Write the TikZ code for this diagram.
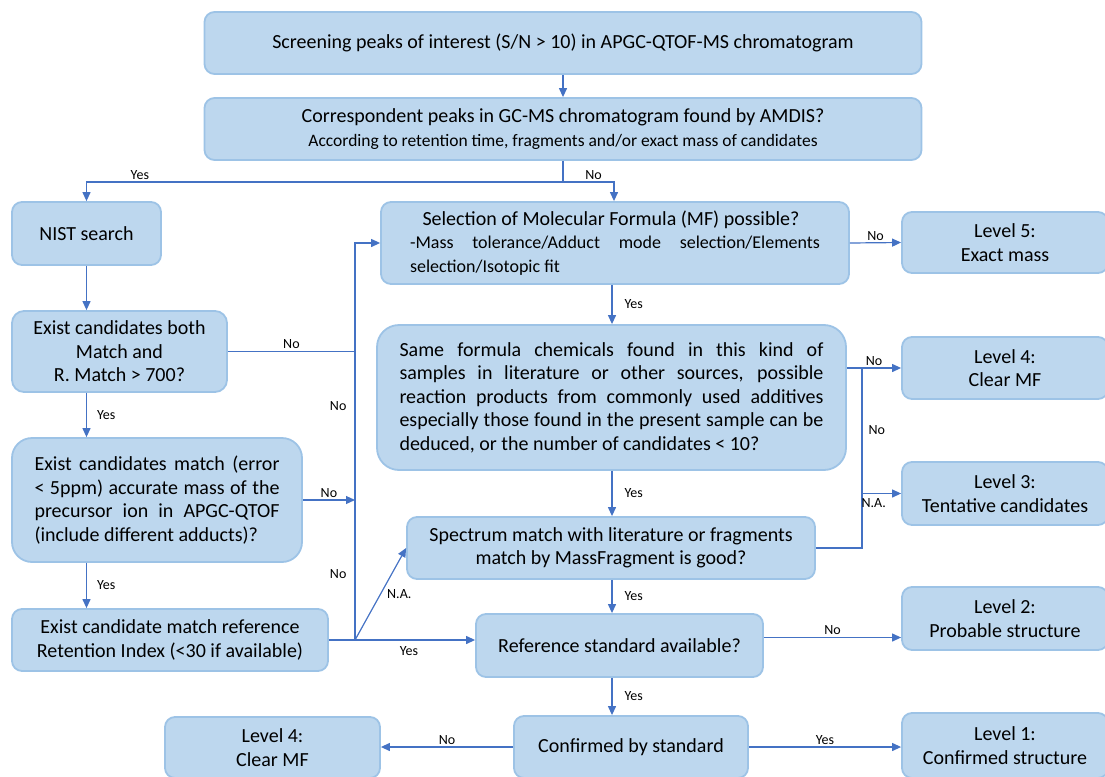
\documentclass[tikz,border=0pt]{standalone}
\usepackage{fontspec}
\setmainfont{Carlito}
\usetikzlibrary{arrows.meta}

\definecolor{boxfill}{HTML}{BDD7EE}
\definecolor{boxline}{HTML}{9DC3E6}
\definecolor{linkblue}{HTML}{4472C4}

\newcommand{\bigtxt}{\fontsize{20}{23.5}\selectfont}
\newcommand{\midtxt}{\fontsize{18}{22}\selectfont}
\newcommand{\smalltxt}{\fontsize{17.5}{20}\selectfont}
\newcommand{\lbltxt}{\fontsize{14}{16}\selectfont}
\hbadness=10000

\tikzset{
  box/.style={draw=boxline, fill=boxfill, line width=1.8pt, rounded corners=10pt,
    align=center, font=\bigtxt, inner sep=0pt},
  link/.style={draw=linkblue, line width=1.2pt, -{Triangle[length=9pt,width=8pt]}},
  wire/.style={draw=linkblue, line width=1.2pt},
  lbl/.style={font=\lbltxt, inner sep=2pt, text=black}
}

\begin{document}
\begin{tikzpicture}[x=1pt, y=-1pt]
  \clip (0,0) rectangle (1105,776);

  % Etapas de triagem
  \node[box, minimum width=717pt, minimum height=62pt] (screen) at (563,43)
    {Screening peaks of interest (S/N > 10) in APGC-QTOF-MS chromatogram};
  \node[box, minimum width=717pt, minimum height=62pt] (amdis) at (563,129)
    {Correspondent peaks in GC-MS chromatogram found by AMDIS?\\
     \smalltxt According to retention time, fragments and/or exact mass of candidates};

  % Coluna da esquerda (NIST)
  \node[box, minimum width=149pt, minimum height=63pt] (nist) at (86.5,233.5) {NIST search};
  \node[box, minimum width=215pt, minimum height=81pt, rounded corners=12pt] (match) at (119.5,351.5)
    {Exist candidates both\\Match and\\R. Match > 700?};
  \node[box, minimum width=290pt, minimum height=124pt, rounded corners=20pt,
        text width=245pt, align=justify] (mass) at (157,500)
    {Exist candidates match (error\linebreak < 5ppm) accurate mass of the\linebreak
     precursor ion in APGC-QTOF\linebreak (include different adducts)?};
  \node[box, minimum width=316pt, minimum height=62pt] (ri) at (170,640)
    {Exist candidate match reference\\Retention Index (<30 if available)};

  % Coluna central (formula molecular)
  \node[box, minimum width=468pt, minimum height=82pt, text width=410pt, align=justify] (mf) at (615,243)
    {{\centering Selection of Molecular Formula (MF) possible?\hspace*{8pt}\par}
     \midtxt -Mass tolerance/Adduct mode selection/Elements\linebreak selection/Isotopic fit};
  \node[box, minimum width=469pt, minimum height=145pt, rounded corners=22pt,
        text width=424pt, align=justify] (lit) at (611.5,397.5)
    {Same formula chemicals found in this kind of\linebreak
     samples in literature or other sources, possible\linebreak
     reaction products from commonly used additives\linebreak
     especially those found in the present sample can be\linebreak
     deduced, or the number of candidates < 10?};
  \node[box, minimum width=408pt, minimum height=62pt] (spec) at (611,548)
    {Spectrum match with literature or fragments\\match by MassFragment is good?};
  \node[box, minimum width=287pt, minimum height=63pt] (refstd) at (619.5,645.5)
    {Reference standard available?};
  \node[box, minimum width=234pt, minimum height=62pt] (conf) at (631,747)
    {Confirmed by standard};

  % Niveis de confianca
  \node[box, minimum width=206pt, minimum height=61pt] (lv5) at (1005,242.5) {Level 5:\\Exact mass};
  \node[box, minimum width=206pt, minimum height=62pt] (lv4a) at (1005,368) {Level 4:\\Clear MF};
  \node[box, minimum width=206pt, minimum height=63pt] (lv3) at (1005,493.5) {Level 3:\\Tentative candidates};
  \node[box, minimum width=206pt, minimum height=63pt] (lv2) at (1005,618.5) {Level 2:\\Probable structure};
  \node[box, minimum width=206pt, minimum height=65pt] (lv1) at (1005,745.5) {Level 1:\\Confirmed structure};
  \node[box, minimum width=215pt, minimum height=61pt] (lv4b) at (272.5,747.5) {Level 4:\\Clear MF};

  % Pontos de ramificacao
  \coordinate (split) at (563,182);
  \coordinate (bus) at (355,640);
  \coordinate (fork) at (862,368);

  % Conectores
  \draw[link] (screen) -- (amdis);
  \draw[link] (amdis.south) -- (split) -| node[lbl, pos=0.444, above] {Yes} (nist.north);
  \draw[link] (split) -| node[lbl, pos=0.3, above] {No} ([xshift=-1pt]mf.north);
  \draw[link] (nist) -- (nist.south |- match.north);
  \draw[link] (nist.south |- match.south) -- node[lbl, right=8pt] {Yes} (nist.south |- mass.north);
  \draw[link] (nist.south |- mass.south) -- node[lbl, right=8pt] {Yes} (nist.south |- ri.north);

  \draw[wire] (match.east) -- node[lbl, above] {No} (match.east -| bus);
  \draw[link] (mass.east) -- node[lbl, above] {No} (mass.east -| bus);
  \draw[wire] (ri.east) -- (bus);
  \draw[link] (bus) |- node[lbl, pos=0.083, left=6pt] {No} node[lbl, pos=0.295, left=6pt] {No} (mf.west);
  \draw[link] (bus) -- node[lbl, pos=0.45, below=4pt] {Yes} (bus -| refstd.west);
  \draw[link] (bus) -- node[lbl, pos=0.5, right=4pt] {N.A.} (spec.west);

  \draw[link] (mf.south -| 612,0) -- node[lbl, right=10pt] {Yes} (lit.north -| 612,0);
  \draw[link] (lit.south -| 612,0) -- node[lbl, right=10pt] {Yes} (spec.north -| 612,0);
  \draw[link] (spec.south -| 612,0) -- node[lbl, right=10pt] {Yes} (refstd.north -| 612,0);
  \draw[link] (refstd.south -| 612,0) -- node[lbl, right=10pt] {Yes} (conf.north -| 612,0);

  \draw[link] (mf.east) -- node[lbl, above] {No} (lv5.west);
  \draw[link] (lit.east |- lv4a.west) -- node[lbl, above] {No} (lv4a.west);
  \draw[wire] (spec.east) -- (fork |- spec.east) -- node[lbl, pos=0.656, right=4pt] {No} (fork);
  \draw[link] (fork |- lv3.west) -- node[lbl, pos=0.3, below=2pt] {N.A.} (lv3.west);
  \draw[link] ([yshift=8pt]refstd.east) -- node[lbl, above] {No} ([yshift=8pt]refstd.east -| lv2.west);
  \draw[link] (conf.west) -- node[lbl, above] {No} (conf.west -| lv4b.east);
  \draw[link] (conf.east) -- node[lbl, above] {Yes} (conf.east -| lv1.west);
\end{tikzpicture}
\end{document}
